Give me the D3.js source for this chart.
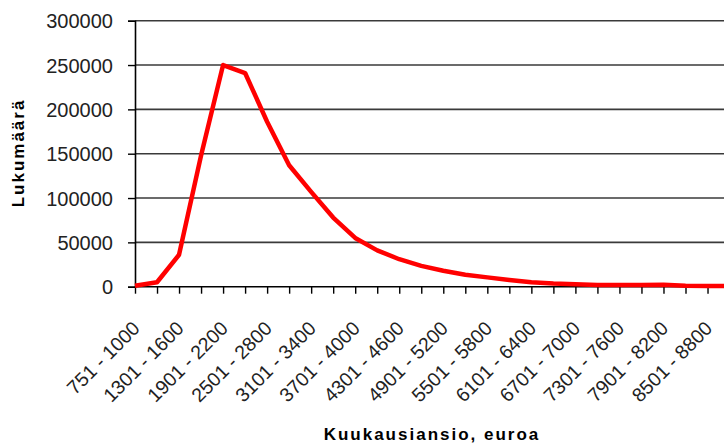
<!DOCTYPE html>
<html>
<head>
<meta charset="utf-8">
<script src="https://cdn.jsdelivr.net/npm/d3@7"></script>
<style>
  body { margin: 0; background: #fff; }
  svg { display: block; font-family: "Liberation Sans", Arial, sans-serif; }
</style>
</head>
<body>
<div id="chart"></div>
<script>
// income classes (euro / month), every second one gets a label
var categories = [
    "751 - 1000", "1001 - 1300", "1301 - 1600", "1601 - 1900", "1901 - 2200",
    "2201 - 2500", "2501 - 2800", "2801 - 3100", "3101 - 3400", "3401 - 3700",
    "3701 - 4000", "4001 - 4300", "4301 - 4600", "4601 - 4900", "4901 - 5200",
    "5201 - 5500", "5501 - 5800", "5801 - 6100", "6101 - 6400", "6401 - 6700",
    "6701 - 7000", "7001 - 7300", "7301 - 7600", "7601 - 7900", "7901 - 8200",
    "8201 - 8500", "8501 - 8800", "8801 - 9100"
];

// number of earners per class
var counts = [
    1000, 5000, 36000, 148000, 250000,
    241000, 186000, 137000, 107000, 78000,
    55000, 41000, 31000, 23500, 18000,
    13500, 10500, 7500, 5000, 3500,
    2800, 2000, 2000, 2000, 2200,
    1000, 800, 800
];

var yTicks = [0, 50000, 100000, 150000, 200000, 250000, 300000];

var yTitle = "Lukumäärä";
var xTitle = "Kuukausiansio, euroa";

var width = 724, height = 444;
var plotLeft = 135, plotTop = 20.7, plotBottom = 286.7;
var step = 22.02;

var svg = d3.select("#chart").append("svg")
    .attr("width", width)
    .attr("height", height);

var x = d3.scalePoint()
    .domain(categories)
    .range([plotLeft, plotLeft + step * (categories.length - 1)]);

var y = d3.scaleLinear()
    .domain([0, 300000])
    .range([plotBottom, plotTop]);

// gridlines
svg.append("g")
    .selectAll("line")
    .data(yTicks.filter(function (d) { return d > 0; }))
    .enter().append("line")
    .attr("x1", plotLeft)
    .attr("x2", width + 10)
    .attr("y1", function (d) { return y(d); })
    .attr("y2", function (d) { return y(d); })
    .style("stroke", "#3a3a3a")
    .style("stroke-width", 1.6);

// y axis
var yAxis = svg.append("g")
    .attr("transform", "translate(" + plotLeft + ",0)")
    .call(d3.axisLeft(y).tickValues(yTicks).tickSize(7).tickPadding(15).tickFormat(d3.format("d")));
yAxis.select(".domain").style("stroke", "#000").style("stroke-width", 1.6);
yAxis.selectAll(".tick line").style("stroke", "#000").style("stroke-width", 1.4);
yAxis.selectAll("text")
    .style("font-size", "20px")
    .style("fill", "#222")
    .attr("dy", "0.36em");

// x axis
var xAxis = svg.append("g")
    .attr("transform", "translate(0," + plotBottom + ")")
    .call(d3.axisBottom(x).tickSize(7).tickFormat(""));
xAxis.select(".domain").attr("d", "M" + plotLeft + ",0H" + (width + 10)).style("stroke", "#000").style("stroke-width", 1.6);
xAxis.selectAll(".tick line").style("stroke", "#000").style("stroke-width", 1.4);

svg.append("g")
    .selectAll("text")
    .data(categories.filter(function (d, i) { return i % 2 === 0; }))
    .enter().append("text")
    .attr("transform", function (d) {
        return "translate(" + (x(d) + 6) + "," + (plotBottom + 43) + ") rotate(-45)";
    })
    .style("text-anchor", "end")
    .style("font-size", "19.5px")
    .style("fill", "#222")
    .text(function (d) { return d; });

// the series
var line = d3.line()
    .x(function (d, i) { return x(categories[i]); })
    .y(function (d) { return y(d); });

svg.append("path")
    .datum(counts)
    .attr("d", line)
    .style("fill", "none")
    .style("stroke", "#ff0000")
    .style("stroke-width", 4.5)
    .style("stroke-linejoin", "round");

// titles
svg.append("text")
    .attr("transform", "translate(24," + 153 + ") rotate(-90)")
    .style("text-anchor", "middle")
    .style("font-size", "17px")
    .style("font-weight", "bold")
    .style("letter-spacing", "2px")
    .text(yTitle);

svg.append("text")
    .attr("x", 432)
    .attr("y", 440)
    .style("text-anchor", "middle")
    .style("font-size", "17px")
    .style("font-weight", "bold")
    .style("letter-spacing", "2px")
    .text(xTitle);
</script>
</body>
</html>
